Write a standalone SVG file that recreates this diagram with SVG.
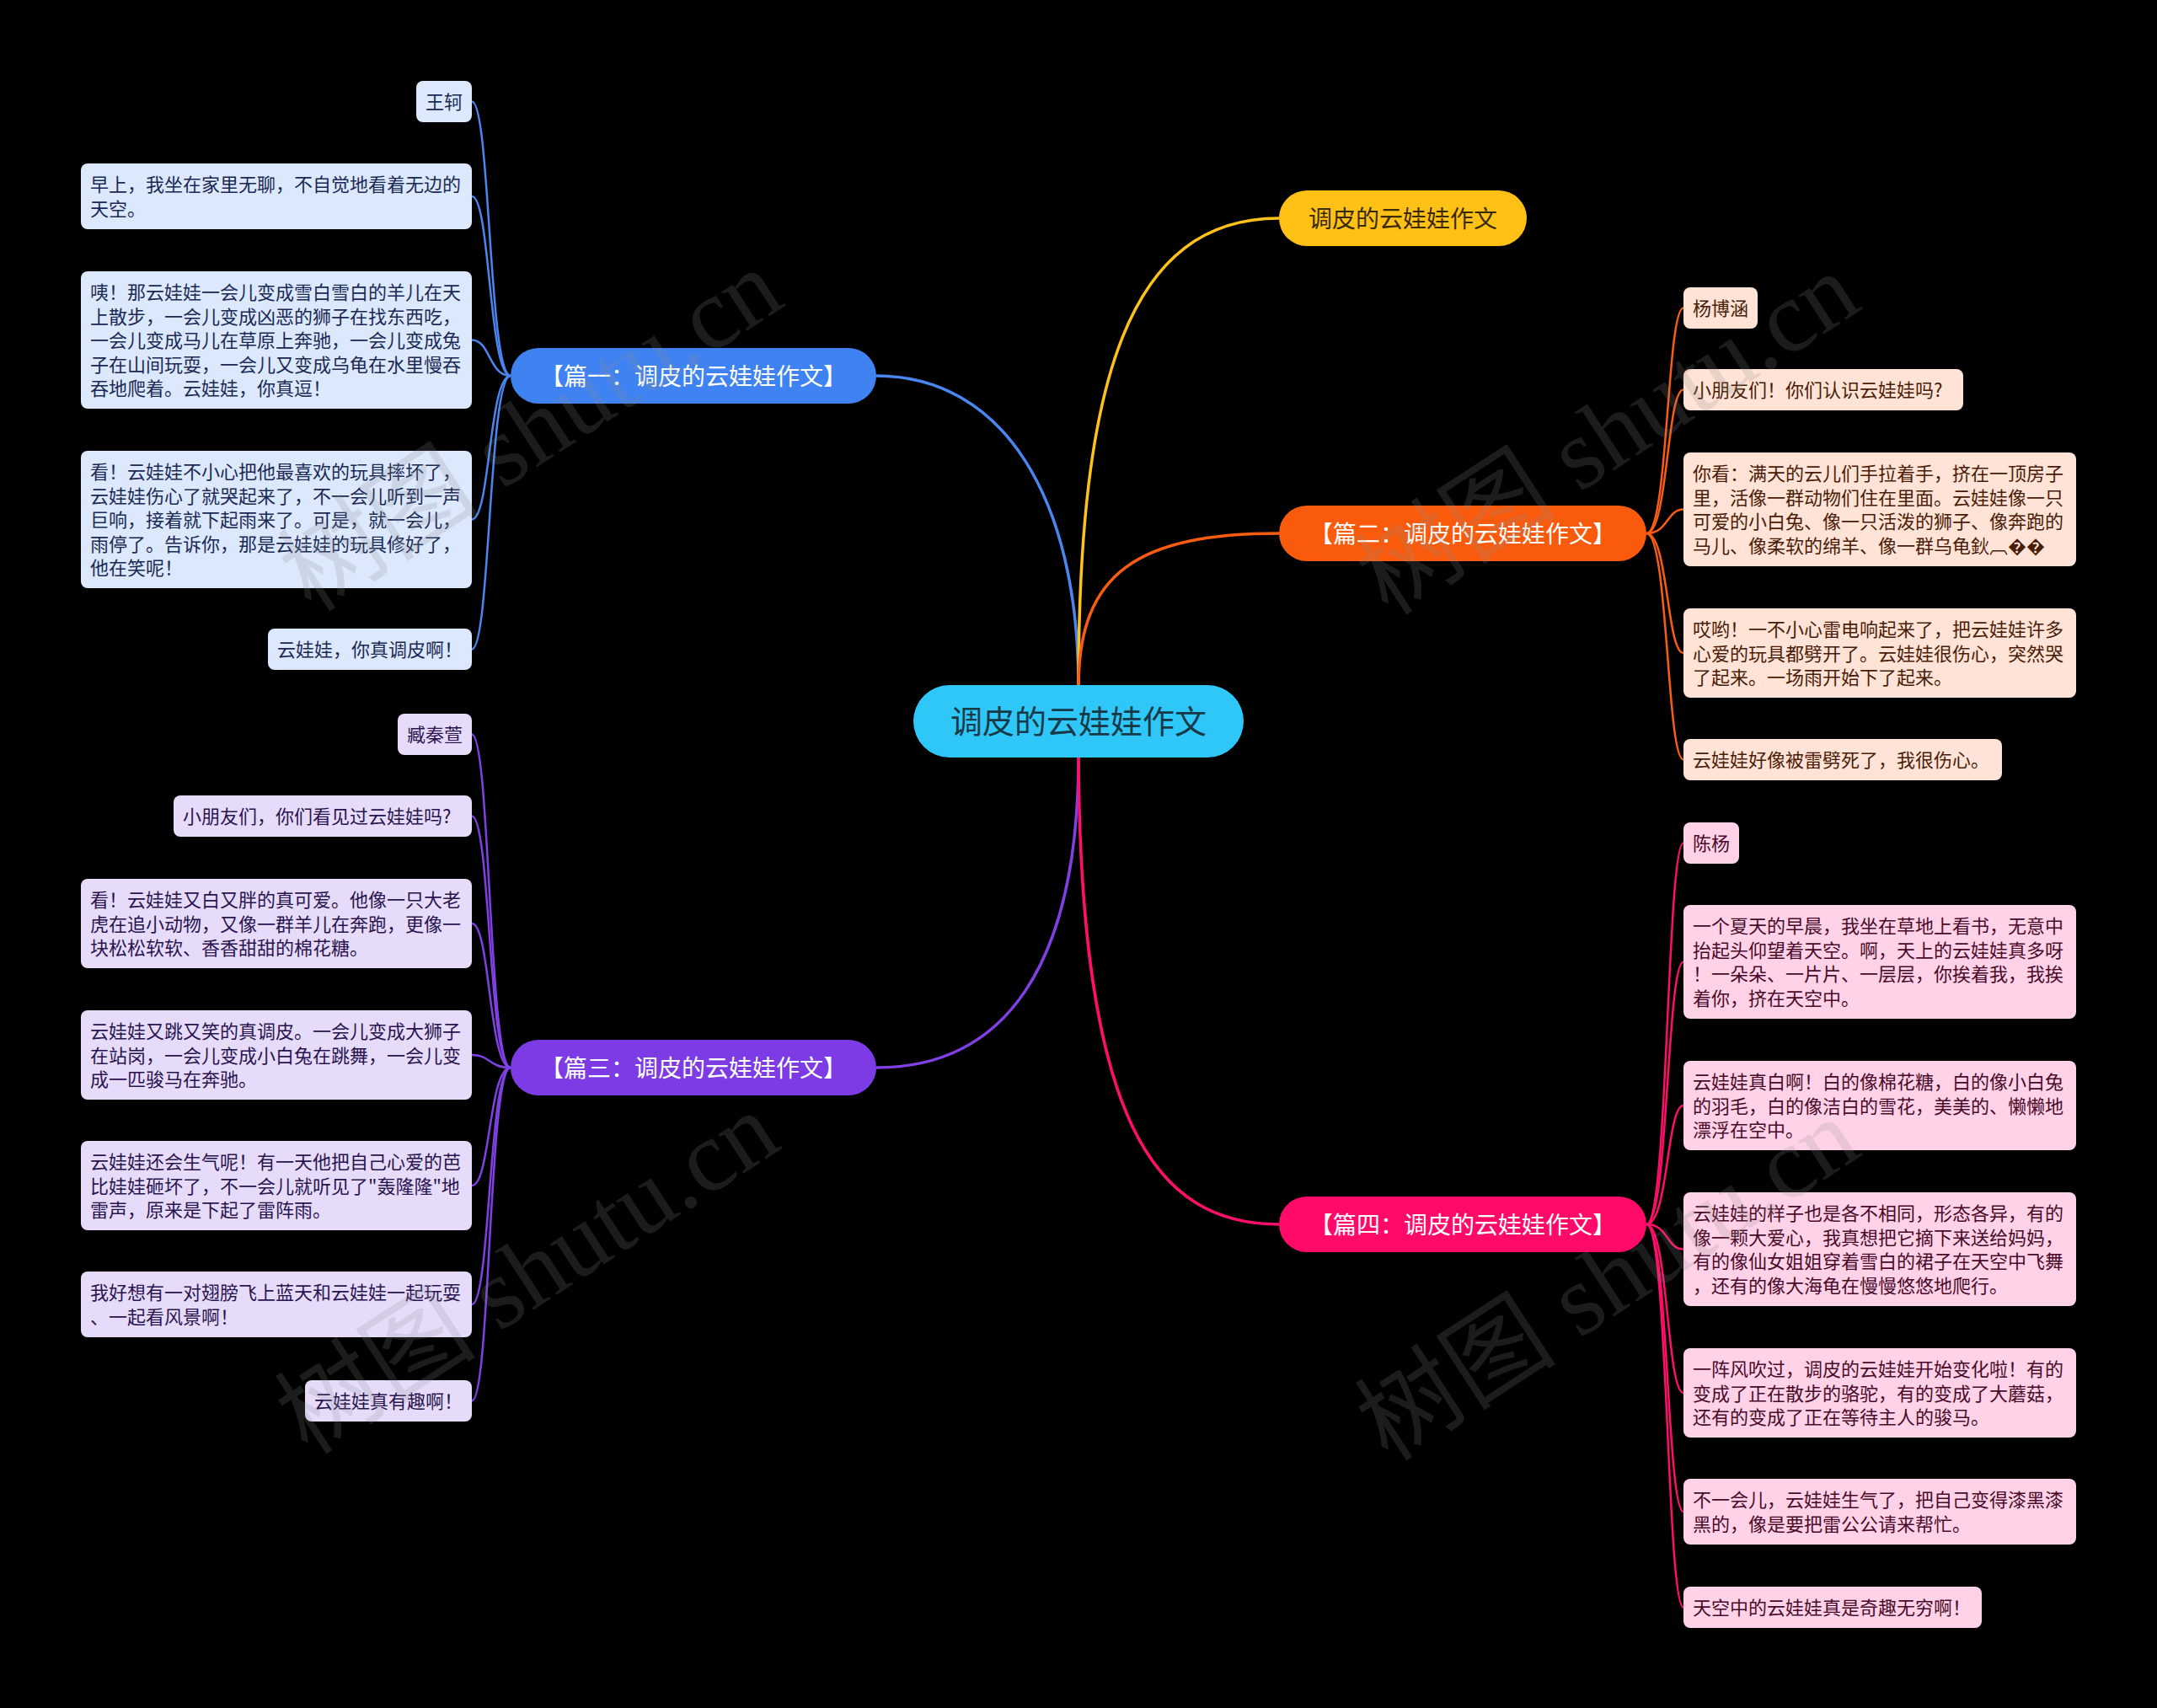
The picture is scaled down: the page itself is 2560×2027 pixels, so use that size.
<svg xmlns="http://www.w3.org/2000/svg" width="2560" height="2027" viewBox="0 0 2560 2027">
<style>
text{font-family:"Noto Sans CJK SC","Noto Sans",sans-serif;}
.leaf{font-size:22px;}
.br{font-size:28px;text-anchor:middle;}
.main{stroke-width:3.5;fill:none;}
.sub{stroke-width:2.5;fill:none;}
.bl{fill:#DCE8FC;} .blt{fill:#1B2A55;}
.pu{fill:#E6DCFA;} .put{fill:#2A1450;}
.or{fill:#FFE3D6;} .ort{fill:#4A1C08;}
.pk{fill:#FFD2E7;} .pkt{fill:#4A0A2A;}
.wm{font-family:"Liberation Serif","Noto Sans CJK SC",serif;font-size:120px;fill:#8a8a8a;fill-opacity:0.2;text-anchor:middle;}
</style>
<rect width="2560" height="2027" fill="#000"/>

<g id="connectors">
  <path class="main" stroke="#4A86F0" d="M1280,815 C1280,590 1190,446 1040,446"/>
  <path class="main" stroke="#FFC21A" d="M1280,815 C1280,450 1340,259 1518,259"/>
  <path class="main" stroke="#FA5C12" d="M1280,815 C1280,680 1350,633 1518,633"/>
  <path class="main" stroke="#8040E6" d="M1280,897 C1280,1150 1190,1267 1040,1267"/>
  <path class="main" stroke="#FF0E6A" d="M1280,897 C1282,1330 1370,1453 1518,1453"/>

  <g stroke="#4A86F0">
    <path class="sub" d="M606,446 C580,446 582,120.5 560,120.5"/>
    <path class="sub" d="M606,446 C580,446 582,233 560,233"/>
    <path class="sub" d="M606,446 C580,446 582,403.5 560,403.5"/>
    <path class="sub" d="M606,446 C580,446 582,616.5 560,616.5"/>
    <path class="sub" d="M606,446 C580,446 582,770.5 560,770.5"/>
  </g>
  <g stroke="#8040E6">
    <path class="sub" d="M606,1267 C580,1267 582,871.5 560,871.5"/>
    <path class="sub" d="M606,1267 C580,1267 582,968.5 560,968.5"/>
    <path class="sub" d="M606,1267 C580,1267 582,1096 560,1096"/>
    <path class="sub" d="M606,1267 C580,1267 582,1252 560,1252"/>
    <path class="sub" d="M606,1267 C580,1267 582,1407 560,1407"/>
    <path class="sub" d="M606,1267 C580,1267 582,1548 560,1548"/>
    <path class="sub" d="M606,1267 C580,1267 582,1662.5 560,1662.5"/>
  </g>
  <g stroke="#FA5C12">
    <path class="sub" d="M1954,633 C1980,633 1978,365.5 1998,365.5"/>
    <path class="sub" d="M1954,633 C1980,633 1978,462.5 1998,462.5"/>
    <path class="sub" d="M1954,633 C1980,633 1978,604.5 1998,604.5"/>
    <path class="sub" d="M1954,633 C1980,633 1978,775 1998,775"/>
    <path class="sub" d="M1954,633 C1980,633 1978,901.5 1998,901.5"/>
  </g>
  <g stroke="#FF0E6A">
    <path class="sub" d="M1954,1453 C1980,1453 1978,1000.5 1998,1000.5"/>
    <path class="sub" d="M1954,1453 C1980,1453 1978,1141.5 1998,1141.5"/>
    <path class="sub" d="M1954,1453 C1980,1453 1978,1312 1998,1312"/>
    <path class="sub" d="M1954,1453 C1980,1453 1978,1482.5 1998,1482.5"/>
    <path class="sub" d="M1954,1453 C1980,1453 1978,1653 1998,1653"/>
    <path class="sub" d="M1954,1453 C1980,1453 1978,1794 1998,1794"/>
    <path class="sub" d="M1954,1453 C1980,1453 1978,1907.5 1998,1907.5"/>
  </g>
</g>

<g id="root">
  <rect x="1084" y="813" width="392" height="86" rx="43" fill="#2FC7F7"/>
  <text x="1280" y="870" font-size="38" text-anchor="middle" fill="#173A48">调皮的云娃娃作文</text>
</g>

<g id="b-yellow">
  <rect x="1518" y="226" width="294" height="66" rx="33" fill="#FFC116"/>
  <text class="br" x="1665" y="269.5" fill="#3A2A05">调皮的云娃娃作文</text>
</g>
<g id="b-orange">
  <rect x="1518" y="600" width="436" height="66" rx="33" fill="#FA5A0C"/>
  <text class="br" x="1736" y="643.5" fill="#FFFFFF">【篇二：调皮的云娃娃作文】</text>
</g>
<g id="b-pink">
  <rect x="1518" y="1420" width="436" height="66" rx="33" fill="#FF0A68"/>
  <text class="br" x="1736" y="1463.5" fill="#FFFFFF">【篇四：调皮的云娃娃作文】</text>
</g>
<g id="b-blue">
  <rect x="606" y="413" width="434" height="66" rx="33" fill="#3F82F2"/>
  <text class="br" x="823" y="456.5" fill="#FFFFFF">【篇一：调皮的云娃娃作文】</text>
</g>
<g id="b-purple">
  <rect x="606" y="1234" width="434" height="66" rx="33" fill="#7C3BE4"/>
  <text class="br" x="823" y="1277.5" fill="#FFFFFF">【篇三：调皮的云娃娃作文】</text>
</g>

<!-- blue leaves -->
<g id="l1-1"><rect class="bl" x="494" y="96" width="66" height="49" rx="8"/><text class="leaf blt" x="505" y="129">王轲</text></g>
<g id="l1-2"><rect class="bl" x="96" y="194" width="464" height="78" rx="8"/>
  <text class="leaf blt"><tspan x="107" y="227">早上，我坐在家里无聊，不自觉地看着无边的</tspan><tspan x="107" y="255.5">天空。</tspan></text></g>
<g id="l1-3"><rect class="bl" x="96" y="322" width="464" height="163" rx="8"/>
  <text class="leaf blt"><tspan x="107" y="355">咦！那云娃娃一会儿变成雪白雪白的羊儿在天</tspan><tspan x="107" y="383.5">上散步，一会儿变成凶恶的狮子在找东西吃，</tspan><tspan x="107" y="412">一会儿变成马儿在草原上奔驰，一会儿变成兔</tspan><tspan x="107" y="440.5">子在山间玩耍，一会儿又变成乌龟在水里慢吞</tspan><tspan x="107" y="469">吞地爬着。云娃娃，你真逗！</tspan></text></g>
<g id="l1-4"><rect class="bl" x="96" y="535" width="464" height="163" rx="8"/>
  <text class="leaf blt"><tspan x="107" y="568">看！云娃娃不小心把他最喜欢的玩具摔坏了，</tspan><tspan x="107" y="596.5">云娃娃伤心了就哭起来了，不一会儿听到一声</tspan><tspan x="107" y="625">巨响，接着就下起雨来了。可是，就一会儿，</tspan><tspan x="107" y="653.5">雨停了。告诉你，那是云娃娃的玩具修好了，</tspan><tspan x="107" y="682">他在笑呢！</tspan></text></g>
<g id="l1-5"><rect class="bl" x="318" y="746" width="242" height="49" rx="8"/><text class="leaf blt" x="329" y="779">云娃娃，你真调皮啊！</text></g>

<!-- purple leaves -->
<g id="l3-1"><rect class="pu" x="472" y="847" width="88" height="49" rx="8"/><text class="leaf put" x="483" y="880">臧秦萱</text></g>
<g id="l3-2"><rect class="pu" x="206" y="944" width="354" height="49" rx="8"/><text class="leaf put" x="217" y="977">小朋友们，你们看见过云娃娃吗?</text></g>
<g id="l3-3"><rect class="pu" x="96" y="1043" width="464" height="106" rx="8"/>
  <text class="leaf put"><tspan x="107" y="1076">看！云娃娃又白又胖的真可爱。他像一只大老</tspan><tspan x="107" y="1104.5">虎在追小动物，又像一群羊儿在奔跑，更像一</tspan><tspan x="107" y="1133">块松松软软、香香甜甜的棉花糖。</tspan></text></g>
<g id="l3-4"><rect class="pu" x="96" y="1199" width="464" height="106" rx="8"/>
  <text class="leaf put"><tspan x="107" y="1232">云娃娃又跳又笑的真调皮。一会儿变成大狮子</tspan><tspan x="107" y="1260.5">在站岗，一会儿变成小白兔在跳舞，一会儿变</tspan><tspan x="107" y="1289">成一匹骏马在奔驰。</tspan></text></g>
<g id="l3-5"><rect class="pu" x="96" y="1354" width="464" height="106" rx="8"/>
  <text class="leaf put"><tspan x="107" y="1387">云娃娃还会生气呢！有一天他把自己心爱的芭</tspan><tspan x="107" y="1415.5">比娃娃砸坏了，不一会儿就听见了"轰隆隆"地</tspan><tspan x="107" y="1444">雷声，原来是下起了雷阵雨。</tspan></text></g>
<g id="l3-6"><rect class="pu" x="96" y="1509" width="464" height="78" rx="8"/>
  <text class="leaf put"><tspan x="107" y="1542">我好想有一对翅膀飞上蓝天和云娃娃一起玩耍</tspan><tspan x="107" y="1570.5">、一起看风景啊！</tspan></text></g>
<g id="l3-7"><rect class="pu" x="362" y="1638" width="198" height="49" rx="8"/><text class="leaf put" x="373" y="1671">云娃娃真有趣啊！</text></g>

<!-- orange leaves -->
<g id="l2-1"><rect class="or" x="1998" y="341" width="88" height="49" rx="8"/><text class="leaf ort" x="2009" y="374">杨博涵</text></g>
<g id="l2-2"><rect class="or" x="1998" y="438" width="332" height="49" rx="8"/><text class="leaf ort" x="2009" y="471">小朋友们！你们认识云娃娃吗?</text></g>
<g id="l2-3"><rect class="or" x="1998" y="537" width="466" height="135" rx="8"/>
  <text class="leaf ort"><tspan x="2009" y="570">你看：满天的云儿们手拉着手，挤在一顶房子</tspan><tspan x="2009" y="598.5">里，活像一群动物们住在里面。云娃娃像一只</tspan><tspan x="2009" y="627">可爱的小白兔、像一只活泼的狮子、像奔跑的</tspan><tspan x="2009" y="655.5">马儿、像柔软的绵羊、像一群乌龟鈥︹��</tspan></text></g>
<g id="l2-4"><rect class="or" x="1998" y="722" width="466" height="106" rx="8"/>
  <text class="leaf ort"><tspan x="2009" y="755">哎哟！一不小心雷电响起来了，把云娃娃许多</tspan><tspan x="2009" y="783.5">心爱的玩具都劈开了。云娃娃很伤心，突然哭</tspan><tspan x="2009" y="812">了起来。一场雨开始下了起来。</tspan></text></g>
<g id="l2-5"><rect class="or" x="1998" y="877" width="378" height="49" rx="8"/><text class="leaf ort" x="2009" y="910">云娃娃好像被雷劈死了，我很伤心。</text></g>

<!-- pink leaves -->
<g id="l4-1"><rect class="pk" x="1998" y="976" width="66" height="49" rx="8"/><text class="leaf pkt" x="2009" y="1009">陈杨</text></g>
<g id="l4-2"><rect class="pk" x="1998" y="1074" width="466" height="135" rx="8"/>
  <text class="leaf pkt"><tspan x="2009" y="1107">一个夏天的早晨，我坐在草地上看书，无意中</tspan><tspan x="2009" y="1135.5">抬起头仰望着天空。啊，天上的云娃娃真多呀</tspan><tspan x="2009" y="1164">！一朵朵、一片片、一层层，你挨着我，我挨</tspan><tspan x="2009" y="1192.5">着你，挤在天空中。</tspan></text></g>
<g id="l4-3"><rect class="pk" x="1998" y="1259" width="466" height="106" rx="8"/>
  <text class="leaf pkt"><tspan x="2009" y="1292">云娃娃真白啊！白的像棉花糖，白的像小白兔</tspan><tspan x="2009" y="1320.5">的羽毛，白的像洁白的雪花，美美的、懒懒地</tspan><tspan x="2009" y="1349">漂浮在空中。</tspan></text></g>
<g id="l4-4"><rect class="pk" x="1998" y="1415" width="466" height="135" rx="8"/>
  <text class="leaf pkt"><tspan x="2009" y="1448">云娃娃的样子也是各不相同，形态各异，有的</tspan><tspan x="2009" y="1476.5">像一颗大爱心，我真想把它摘下来送给妈妈，</tspan><tspan x="2009" y="1505">有的像仙女姐姐穿着雪白的裙子在天空中飞舞</tspan><tspan x="2009" y="1533.5">，还有的像大海龟在慢慢悠悠地爬行。</tspan></text></g>
<g id="l4-5"><rect class="pk" x="1998" y="1600" width="466" height="106" rx="8"/>
  <text class="leaf pkt"><tspan x="2009" y="1633">一阵风吹过，调皮的云娃娃开始变化啦！有的</tspan><tspan x="2009" y="1661.5">变成了正在散步的骆驼，有的变成了大蘑菇，</tspan><tspan x="2009" y="1690">还有的变成了正在等待主人的骏马。</tspan></text></g>
<g id="l4-6"><rect class="pk" x="1998" y="1755" width="466" height="78" rx="8"/>
  <text class="leaf pkt"><tspan x="2009" y="1788">不一会儿，云娃娃生气了，把自己变得漆黑漆</tspan><tspan x="2009" y="1816.5">黑的，像是要把雷公公请来帮忙。</tspan></text></g>
<g id="l4-7"><rect class="pk" x="1998" y="1883" width="354" height="49" rx="8"/><text class="leaf pkt" x="2009" y="1916">天空中的云娃娃真是奇趣无穷啊！</text></g>

<g id="watermarks">
  <text class="wm" transform="translate(652,545) rotate(-33)">树图 shutu.cn</text>
  <text class="wm" transform="translate(1930,549) rotate(-33)">树图 shutu.cn</text>
  <text class="wm" transform="translate(648,1545) rotate(-33)">树图 shutu.cn</text>
  <text class="wm" transform="translate(1930,1553) rotate(-33)">树图 shutu.cn</text>
</g>
</svg>
